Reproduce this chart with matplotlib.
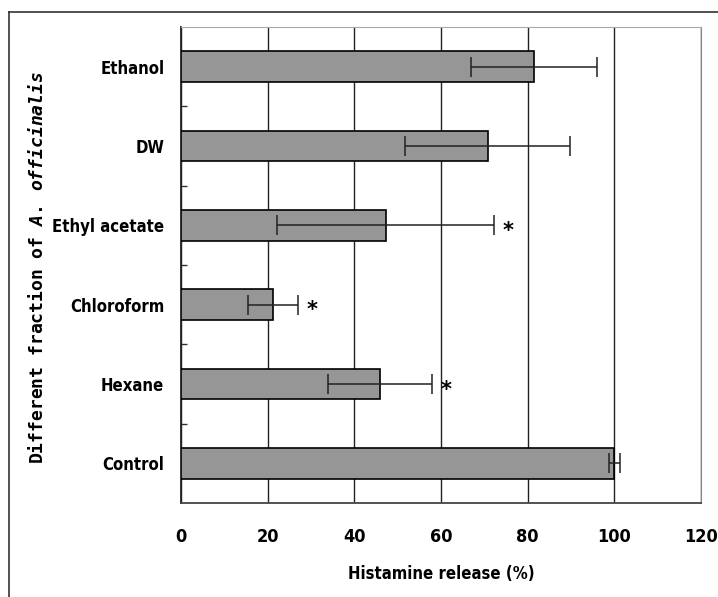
import matplotlib
matplotlib.use("Agg")
import matplotlib.pyplot as plt
from matplotlib.lines import Line2D
import numpy as np

categories = ["Control", "Hexane", "Chloroform", "Ethyl acetate", "DW", "Ethanol"]
values = [100.0, 45.9, 21.2, 47.2, 70.8, 81.5]
errors = [1.2, 12.0, 5.8, 25.0, 19.0, 14.5]
significant = [False, True, True, True, False, False]
xticks = [0, 20, 40, 60, 80, 100, 120]

plt.rcParams['mathtext.fontset'] = 'custom'
plt.rcParams['mathtext.rm'] = 'DejaVu Sans Mono:bold'
plt.rcParams['mathtext.it'] = 'DejaVu Sans Mono:bold:italic'

fig = plt.figure(figsize=(7.18, 5.97), dpi=100)
ax = fig.add_axes([181/718, 1-503/597, (701-181)/718, (503-27)/597])

y = np.arange(len(categories))
ax.barh(y, values, height=0.39, color='#969696', edgecolor='black', linewidth=1.2, zorder=3)
ax.errorbar(values, y, xerr=errors, fmt='none', ecolor='#222222', elinewidth=1.1,
            capsize=7.5, capthick=1.1, zorder=4)
for yi, v, e, s in zip(y, values, errors, significant):
    if s:
        ax.annotate('*', xy=(v + e, yi), xytext=(6, -4), textcoords='offset points',
                    ha='left', va='center', fontsize=15, fontweight='bold')

ax.set_xlim(0, 120)
ax.set_ylim(-0.5, len(categories) - 0.5)
ax.set_xticks(xticks)
ax.set_xticklabels([str(t) for t in xticks], fontsize=13, fontweight='bold', fontstretch='condensed')
ax.tick_params(axis='x', length=0, pad=18)
ax.set_yticks(y)
ax.set_yticklabels(categories, fontsize=12, fontweight='bold', fontstretch='condensed')
ax.tick_params(axis='y', length=0, pad=12)
ax.set_yticks(np.arange(len(categories) - 1) + 0.5, minor=True)
ax.tick_params(axis='y', which='minor', direction='in', length=4.5, width=1, color='#333333')

ax.grid(axis='x', color='#222222', linewidth=1, zorder=0)
ax.set_axisbelow(True)
ax.spines['left'].set_color('#222222')
ax.spines['left'].set_linewidth(1.3)
ax.spines['bottom'].set_color('#444444')
ax.spines['bottom'].set_linewidth(1.3)
ax.spines['top'].set_color('#aaaaaa')
ax.spines['right'].set_color('#888888')

ax.set_xlabel('Histamine release (%)', fontsize=12, fontweight='bold', fontstretch='condensed', labelpad=14)
fig.text(38/718, 1-267/597, r'Different fraction of $\mathit{A.}$ $\mathit{officinalis}$',
         rotation=90, ha='center', va='center', fontsize=13, fontweight='bold',
         family='DejaVu Sans Mono')

# outer frame (left and top)
fig.add_artist(Line2D([9/718, 9/718], [0, 1-12/597], transform=fig.transFigure, color='#333333', lw=1.2))
fig.add_artist(Line2D([9/718, 1], [1-12/597, 1-12/597], transform=fig.transFigure, color='#333333', lw=1.2))

fig.savefig('out.png', dpi=100)
